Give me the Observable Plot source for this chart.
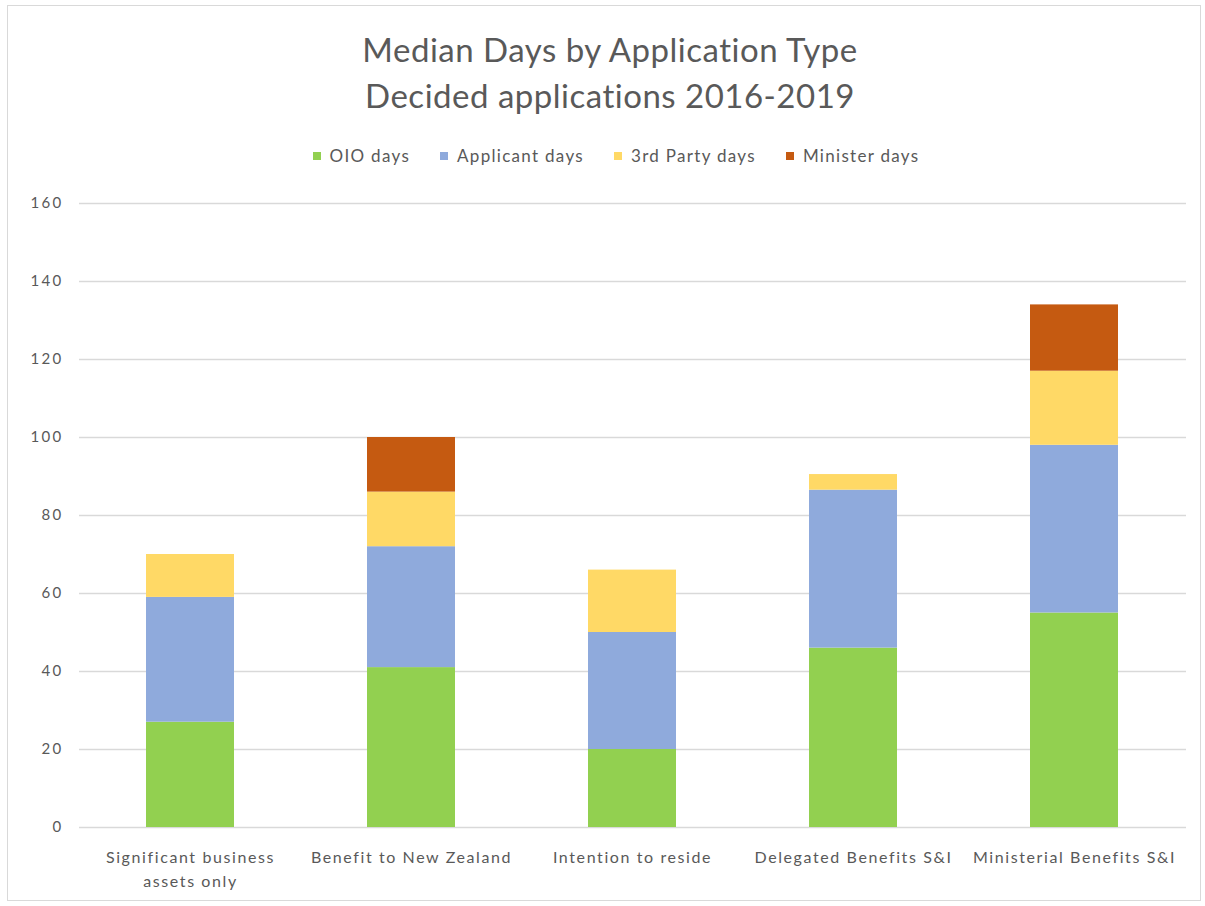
<!DOCTYPE html>
<html>
<head>
<meta charset="utf-8">
<script src="https://cdn.jsdelivr.net/npm/d3@7"></script>
<script src="https://cdn.jsdelivr.net/npm/@observablehq/plot@0.6"></script>
<style>
  html, body { margin: 0; padding: 0; background: #fff; }
  #wrap { position: relative; width: 1205px; height: 906px; overflow: hidden; font-family: Lato, "Noto Sans", sans-serif; }
  #frame { position: absolute; left: 7px; top: 5px; width: 1194px; height: 896px; border: 1px solid #d9d9d9; box-sizing: border-box; }
  #title { position: absolute; left: 0; top: 26px; width: 1220px; text-align: center; color: #595959; font-size: 33px; letter-spacing: 0.5px; line-height: 46px; }
  #legend { position: absolute; left: 0; top: 145px; width: 1232px; display: flex; justify-content: center; gap: 30px; color: #595959; font-size: 17px; letter-spacing: 1.3px; }
  #legend .item { display: flex; align-items: center; gap: 9px; }
  #legend .sw { width: 8px; height: 8px; display: inline-block; }
  #chart { position: absolute; left: 0; top: 180px; }
  #chart g[aria-label="y-axis tick label"] text { letter-spacing: 2.3px; }
  #chart g[aria-label="x-axis tick label"] text { letter-spacing: 1.6px; }
</style>
</head>
<body>
<div id="wrap">
  <div id="frame"></div>
  <div id="title">Median Days by Application Type<br>Decided applications 2016-2019</div>
  <div id="legend"></div>
  <div id="chart"></div>
</div>
<script>
const categories = ["Significant business\nassets only", "Benefit to New Zealand", "Intention to reside", "Delegated Benefits S&I", "Ministerial Benefits S&I"];
const seriesNames = ["OIO days", "Applicant days", "3rd Party days", "Minister days"];
const seriesColors = ["#92d050", "#8faadc", "#ffd966", "#c55a11"];
const oioDays = [27, 41, 20, 46, 55];
const applicantDays = [32, 31, 30, 40.5, 43];
const thirdPartyDays = [11, 14, 16, 4, 19];
const ministerDays = [0, 14, 0, 0, 17];
const yTicks = [0, 20, 40, 60, 80, 100, 120, 140, 160];

const seriesValues = [oioDays, applicantDays, thirdPartyDays, ministerDays];
const data = [];
categories.forEach((c, i) => {
  seriesNames.forEach((s, j) => {
    data.push({category: c, series: s, value: seriesValues[j][i]});
  });
});

const legend = document.getElementById("legend");
seriesNames.forEach((s, j) => {
  const it = document.createElement("div");
  it.className = "item";
  it.innerHTML = `<span class="sw" style="background:${seriesColors[j]}"></span><span>${s}</span>`;
  legend.appendChild(it);
});

const chart = Plot.plot({
  width: 1205,
  height: 726,
  marginTop: 23,
  marginBottom: 79,
  marginLeft: 79,
  marginRight: 19,
  style: {fontFamily: "Lato, 'Noto Sans', sans-serif", fontSize: "15px", color: "#595959", background: "transparent"},
  x: {domain: categories, paddingInner: 0.6, paddingOuter: 0.3, label: null},
  y: {domain: [0, 160], ticks: yTicks, label: null},
  color: {domain: seriesNames, range: seriesColors},
  marks: [
    Plot.ruleY(yTicks, {stroke: "#d9d9d9", strokeWidth: 1.3}),
    Plot.barY(data, {x: "category", y: "value", fill: "series", order: seriesNames}),
    Plot.axisY({ticks: yTicks, tickSize: 0, tickPadding: 16, fontSize: 15, fill: "#595959", label: null}),
    Plot.axisX({tickSize: 0, tickPadding: 18, fontSize: 16, fill: "#595959", lineHeight: 1.5, label: null})
  ]
});
document.getElementById("chart").appendChild(chart);
</script>
</body>
</html>
